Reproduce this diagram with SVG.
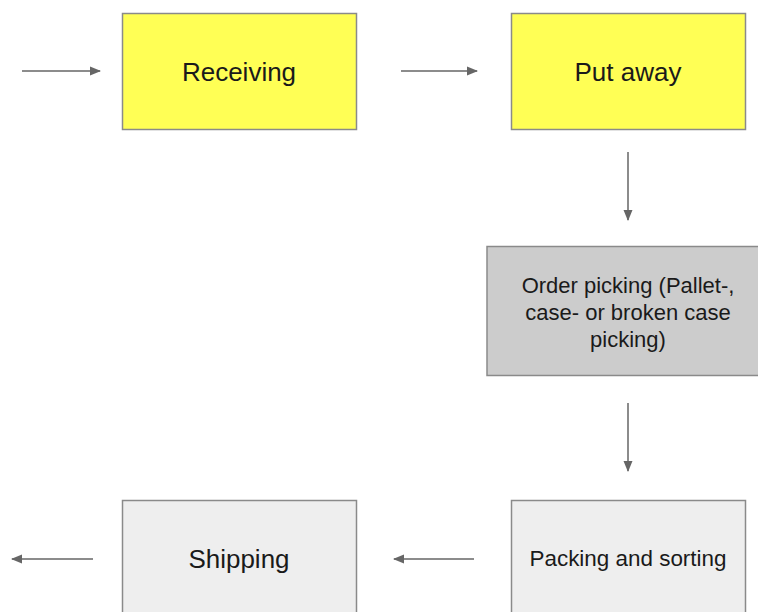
<svg xmlns="http://www.w3.org/2000/svg" width="758" height="612" viewBox="0 0 758 612">
<style>
.box{stroke:#8a8a8a;stroke-width:1.5}
.yel{fill:#ffff55}
.gry{fill:#cccccc}
.lgt{fill:#eeeeee}
.t{font-family:"Liberation Sans",Arial,sans-serif;fill:#1a1a1a;text-anchor:middle;dominant-baseline:central}
.c{stroke:#666;stroke-width:1.5;fill:none;marker-end:url(#ah)}
</style>
<defs>
<marker id="ah" markerWidth="12" markerHeight="12" refX="10" refY="6" orient="auto" markerUnits="userSpaceOnUse">
<path d="M0,1.5 L11,6 L0,10.5 Z" fill="#666"/>
</marker>
</defs>
<rect width="758" height="612" fill="#fff"/>
<g id="connectors">
<line class="c" x1="22" y1="71" x2="100" y2="71"/>
<line class="c" x1="401" y1="71" x2="477" y2="71"/>
<line class="c" x1="628" y1="152" x2="628" y2="220"/>
<line class="c" x1="628" y1="403" x2="628" y2="471"/>
<line class="c" x1="474" y1="559" x2="394" y2="559"/>
<line class="c" x1="93" y1="559" x2="12" y2="559"/>
</g>
<g id="receiving">
<rect class="box yel" x="122.5" y="13.5" width="234" height="116"/>
<text class="t" x="239" y="72" font-size="26">Receiving</text>
</g>
<g id="putaway">
<rect class="box yel" x="511.5" y="13.5" width="234" height="116"/>
<text class="t" x="628" y="72" font-size="26">Put away</text>
</g>
<g id="orderpicking">
<rect class="box gry" x="487" y="246.5" width="280" height="129"/>
<text class="t" x="628" y="285" font-size="22">Order picking (Pallet-,</text>
<text class="t" x="628" y="312" font-size="22">case- or broken case</text>
<text class="t" x="628" y="339" font-size="22">picking)</text>
</g>
<g id="packing">
<rect class="box lgt" x="511.5" y="500.5" width="234" height="130"/>
<text class="t" x="628" y="558" font-size="22" textLength="197" lengthAdjust="spacingAndGlyphs">Packing and sorting</text>
</g>
<g id="shipping">
<rect class="box lgt" x="122.5" y="500.5" width="234" height="130"/>
<text class="t" x="239" y="559" font-size="26" textLength="101" lengthAdjust="spacingAndGlyphs">Shipping</text>
</g>
</svg>
